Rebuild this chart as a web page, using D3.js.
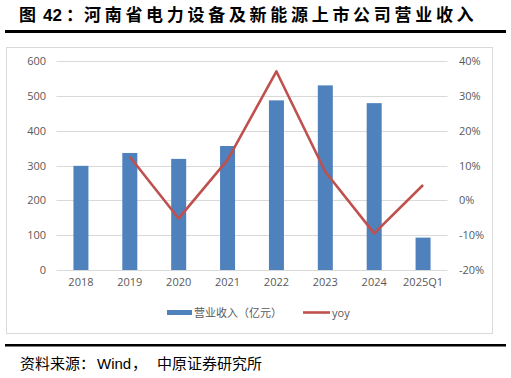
<!DOCTYPE html>
<html><head><meta charset="utf-8">
<script src="https://cdn.jsdelivr.net/npm/d3@7"></script>
<style>body{margin:0;background:#fff}svg{display:block}</style>
</head><body>
<script>
const categories = ["2018","2019","2020","2021","2022","2023","2024","2025Q1"];
const revenue = [299, 336, 319, 356, 487, 530, 479, 93];
const yoyCats = ["2019","2020","2021","2022","2023","2024","2025Q1"];
const yoy = [12.5, -5.2, 11.6, 37.0, 8.2, -9.5, 4.4];
const leftTicks = [0,100,200,300,400,500,600];
const rightTicks = [-20,-10,0,10,20,30,40];

const W=511,H=378;
const svg=d3.select("body").append("svg").attr("width",W).attr("height",H);
const font="'Noto Sans CJK SC','Noto Sans',sans-serif";
const latin="'Liberation Sans',Arial,sans-serif";

// title
const tt=svg.append("g").attr("font-weight","bold").attr("fill","#000");
tt.append("text").attr("x",19).attr("y",20.5).attr("font-family",font).attr("font-size",17).text("图");
tt.append("text").attr("x",43).attr("y",20.5).attr("font-family",latin).attr("font-size",17).text("42");
tt.append("text").attr("x",66).attr("y",20.5).attr("font-family",font).attr("font-size",17).text("：");
tt.append("text").attr("x",84).attr("y",20.5).attr("font-family",font).attr("font-size",17)
  .attr("letter-spacing","3.7px").text("河南省电力设备及新能源上市公司营业收入");
svg.append("rect").attr("x",5).attr("y",30).attr("width",501).attr("height",3).attr("fill","#000");
svg.append("rect").attr("x",5).attr("y",344).attr("width",501).attr("height",2.5).attr("fill","#000");
const src=svg.append("g").attr("fill","#000").attr("font-size",15);
src.append("text").attr("x",20).attr("y",369).attr("font-family",font).text("资料来源：");
src.append("text").attr("x",97).attr("y",369).attr("font-family",latin).text("Wind");
src.append("text").attr("x",132).attr("y",369).attr("font-family",font).text("，");
src.append("text").attr("x",157).attr("y",369).attr("font-family",font).text("中原证券研究所");

// chart border
svg.append("rect").attr("x",6.5).attr("y",47.5).attr("width",486).attr("height",286)
  .attr("fill","none").attr("stroke","#d9d9d9");

const x=d3.scaleBand().domain(categories).range([56.5,447.5]);
const y=d3.scaleLinear().domain([0,600]).range([270,61]);
const y2=d3.scaleLinear().domain([-20,40]).range([270,61]);

const g=svg.append("g");
g.selectAll("line.grid").data(leftTicks).join("line")
  .attr("x1",56.5).attr("x2",447.5).attr("y1",d=>Math.round(y(d))+0.5).attr("y2",d=>Math.round(y(d))+0.5)
  .attr("stroke","#d9d9d9").attr("stroke-width",1);

const tickFont="'Open Sans','Noto Sans',sans-serif";
const la=svg.append("g").attr("transform","translate(46,0)")
  .call(d3.axisLeft(y).tickValues(leftTicks).tickSize(0).tickPadding(0));
la.select(".domain").remove();
la.selectAll("text").attr("font-family",tickFont).attr("font-size",11).attr("fill","#595959");
const ra=svg.append("g").attr("transform","translate(459,0)")
  .call(d3.axisRight(y2).tickValues(rightTicks).tickSize(0).tickPadding(0).tickFormat(d=>d+"%"));
ra.select(".domain").remove();
ra.selectAll("text").attr("font-family",tickFont).attr("font-size",11).attr("fill","#595959");
const xa=svg.append("g").attr("transform","translate(0,278)")
  .call(d3.axisBottom(x).tickSize(0).tickPadding(0));
xa.select(".domain").remove();
xa.selectAll("text").attr("font-family",tickFont).attr("font-size",11).attr("fill","#595959");

const bw=15;
g.selectAll("rect.bar").data(categories).join("rect")
  .attr("x",(d)=>x(d)+x.bandwidth()/2-bw/2).attr("width",bw)
  .attr("y",(d,i)=>y(revenue[i])).attr("height",(d,i)=>270-y(revenue[i]))
  .attr("fill","#4f81bd");

const line=d3.line().x((d,i)=>x(yoyCats[i])+x.bandwidth()/2).y(d=>y2(d));
g.append("path").datum(yoy).attr("d",line).attr("fill","none")
  .attr("stroke","#c0504d").attr("stroke-width",2.6).attr("stroke-linejoin","round");

svg.append("rect").attr("x",167).attr("y",310).attr("width",25).attr("height",5).attr("fill","#4f81bd");
svg.append("text").attr("x",194).attr("y",316.5).attr("font-family",font).attr("font-size",11)
  .attr("fill","#595959").text("营业收入（亿元）");
svg.append("line").attr("x1",303).attr("x2",330).attr("y1",312.5).attr("y2",312.5)
  .attr("stroke","#c0504d").attr("stroke-width",2.6);
svg.append("text").attr("x",332).attr("y",316.5).attr("font-family",tickFont).attr("font-size",11)
  .attr("fill","#595959").text("yoy");
</script>
</body></html>
